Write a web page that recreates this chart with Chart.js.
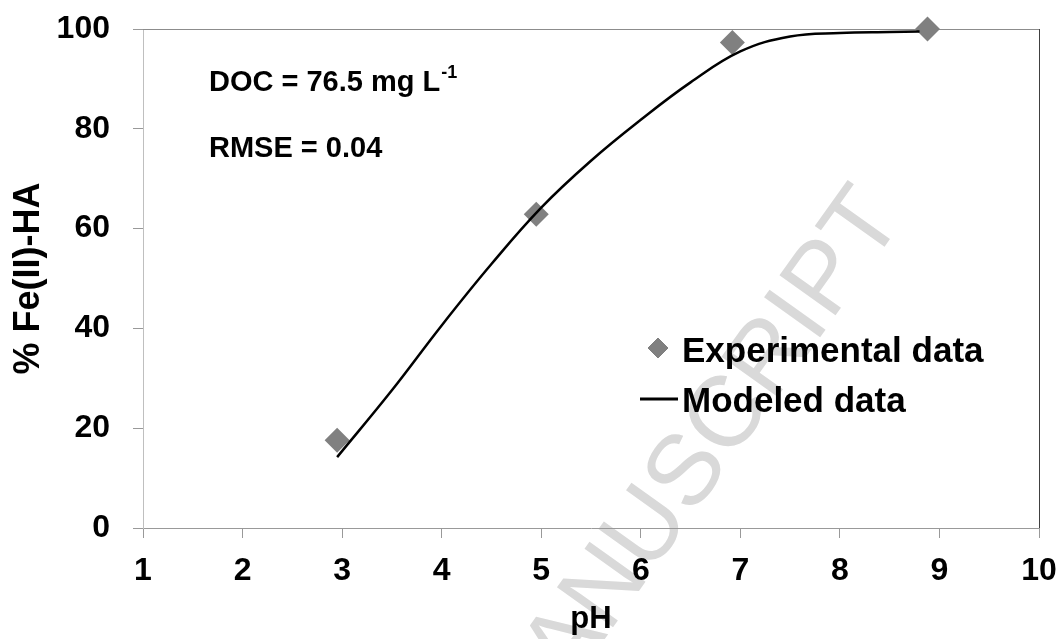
<!DOCTYPE html>
<html>
<head>
<meta charset="utf-8">
<script src="https://cdn.jsdelivr.net/npm/chart.js@4/dist/chart.umd.min.js"></script>
<style>
  body { margin: 0; background: #fff; }
  canvas { display: block; }
</style>
</head>
<body>
<canvas id="chart" width="1062" height="639"></canvas>
<script>
// experimental points
var expPH = [2.95, 4.95, 6.92, 8.88];
var expFe = [17.6, 62.9, 97.3, 100];

// modeled curve
var modPH = [2.95, 3.5, 4, 4.5, 5, 5.5, 6, 6.5, 7, 7.5, 8, 8.5, 8.8];
var modFe = [14.2, 27.6, 40.6, 52.9, 64.2, 73.6, 81.8, 89.3, 95.5, 98.5, 99.2, 99.4, 99.5];

var xTicks = [1, 2, 3, 4, 5, 6, 7, 8, 9, 10];
var yTicks = [0, 20, 40, 60, 80, 100];

var FONT = '"Liberation Sans", Arial, sans-serif';

function pts(xs, ys) {
  return xs.map(function(x, i) { return { x: x, y: ys[i] }; });
}

function noPad(s) {
  s.paddingTop = 0; s.paddingBottom = 0; s.paddingLeft = 0; s.paddingRight = 0;
}

// watermark under everything
var watermark = {
  id: 'watermark',
  beforeDraw: function(chart) {
    var ctx = chart.ctx;
    ctx.save();
    ctx.translate(905, 218);
    ctx.rotate(-54.5 * Math.PI / 180);
    ctx.font = '100px ' + FONT;
    ctx.fillStyle = '#d9d9d9';
    ctx.textAlign = 'right';
    ctx.textBaseline = 'alphabetic';
    ctx.fillText('ACCEPTED MANUSCRIPT', 0, 0);
    ctx.restore();
  }
};

// top and right frame lines
var frame = {
  id: 'frame',
  beforeDatasetsDraw: function(chart) {
    var a = chart.chartArea, ctx = chart.ctx;
    ctx.save();
    ctx.lineWidth = 1;
    ctx.strokeStyle = '#8c8c8c';
    ctx.beginPath();
    ctx.moveTo(a.left, a.top + 0.5);
    ctx.lineTo(a.right, a.top + 0.5);
    ctx.stroke();
    ctx.strokeStyle = '#404040';
    ctx.beginPath();
    ctx.moveTo(a.right + 0.5, a.top);
    ctx.lineTo(a.right + 0.5, a.bottom);
    ctx.stroke();
    ctx.restore();
  }
};

// text notes and legend
var notes = {
  id: 'notes',
  afterDraw: function(chart) {
    var ctx = chart.ctx;
    ctx.save();
    ctx.fillStyle = '#000';
    ctx.textAlign = 'left';
    ctx.textBaseline = 'alphabetic';
    ctx.font = 'bold 29px ' + FONT;
    var s = 'DOC = 76.5 mg L';
    ctx.fillText(s, 209, 91);
    var w = ctx.measureText(s).width;
    ctx.fillText('RMSE = 0.04', 209, 157);
    ctx.font = 'bold 18px ' + FONT;
    ctx.fillText('-1', 209 + w + 1, 78);

    var ds = chart.data.datasets;
    Chart.helpers.drawPoint(ctx, {
      pointStyle: 'rectRot', radius: 10, borderWidth: 0, rotation: 0
    }, 658, 348);
    ctx.fillStyle = ds[0].backgroundColor;
    ctx.fill();

    ctx.strokeStyle = ds[1].borderColor;
    ctx.lineWidth = 3;
    ctx.beginPath();
    ctx.moveTo(640, 399);
    ctx.lineTo(678, 399);
    ctx.stroke();

    ctx.fillStyle = '#000';
    ctx.font = 'bold 35px ' + FONT;
    ctx.fillText(ds[0].label, 682, 362);
    ctx.fillText(ds[1].label, 682, 412);
    ctx.restore();
  }
};

var ctx = document.getElementById('chart').getContext('2d');
var chart = new Chart(ctx, {
  type: 'scatter',
  data: {
    datasets: [{
      label: 'Experimental data',
      data: pts(expPH, expFe),
      pointStyle: 'rectRot',
      pointRadius: 12.5,
      backgroundColor: '#808080',
      borderWidth: 0,
      showLine: false,
      clip: false,
      order: 2
    }, {
      label: 'Modeled data',
      data: pts(modPH, modFe),
      showLine: true,
      borderColor: '#000000',
      borderWidth: 2.5,
      pointRadius: 0,
      tension: 0.4,
      fill: false,
      clip: false,
      order: 1
    }]
  },
  options: {
    responsive: false,
    animation: false,
    layout: { padding: { top: 29, right: 23, left: 0, bottom: 0 } },
    plugins: { legend: { display: false }, tooltip: { enabled: false } },
    scales: {
      x: {
        type: 'linear',
        min: xTicks[0],
        max: xTicks[xTicks.length - 1],
        afterBuildTicks: function(s) { s.ticks = xTicks.map(function(v) { return { value: v }; }); },
        ticks: { color: '#000', font: { family: FONT, size: 32, weight: 'bold' }, padding: 14, maxRotation: 0 },
        grid: { drawOnChartArea: false, tickLength: 10, color: '#999999' },
        border: { color: '#999999' },
        title: { display: true, text: 'pH', color: '#000', font: { family: FONT, size: 31, weight: 'bold' }, padding: { top: 0, bottom: 1 } },
        afterFit: function(s) { s.height = 111; noPad(s); }
      },
      y: {
        min: yTicks[0],
        max: yTicks[yTicks.length - 1],
        afterBuildTicks: function(s) { s.ticks = yTicks.map(function(v) { return { value: v }; }); },
        ticks: { color: '#000', font: { family: FONT, size: 32, weight: 'bold' }, padding: 23 },
        grid: { drawOnChartArea: false, tickLength: 10, color: '#999999' },
        border: { color: '#bfbfbf' },
        title: { display: true, text: '% Fe(II)-HA', color: '#000', font: { family: FONT, size: 36, weight: 'bold' }, padding: { top: 7, bottom: 0 } },
        afterFit: function(s) { s.width = 143; noPad(s); }
      }
    }
  },
  plugins: [watermark, frame, notes]
});
</script>
</body>
</html>
